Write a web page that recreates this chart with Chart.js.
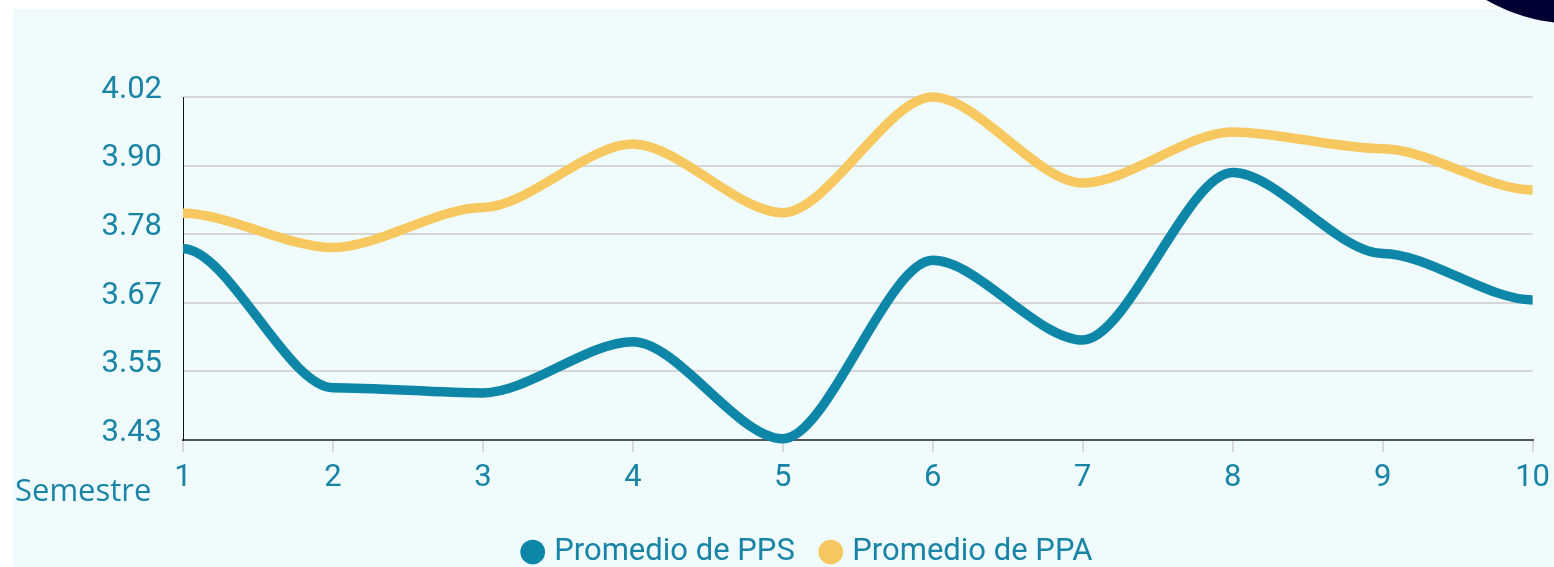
<!DOCTYPE html>
<html lang="es">
<head>
<meta charset="utf-8">
<title>Promedio por semestre</title>
<script src="https://cdn.jsdelivr.net/npm/chart.js@4.4.1/dist/chart.umd.min.js"></script>
<style>
  html, body {
    margin: 0;
    padding: 0;
    width: 1554px;
    height: 567px;
    overflow: hidden;
    background: #ffffff;
  }
  .panel {
    position: absolute;
    left: 13px;
    top: 9px;
    width: 1545px;
    height: 570px;
    background: #effbfd;
  }
  #chart {
    position: absolute;
    left: 0;
    top: 0;
  }
  .axis-title {
    position: absolute;
    left: 2px;
    top: 465px;
    font-family: "Open Sans", sans-serif;
    font-size: 31px;
    line-height: 1;
    color: #1a84a6;
  }
  .blob {
    position: absolute;
    left: 1396px;
    top: -336px;
    width: 360px;
    height: 360px;
    border-radius: 50%;
    background: #000033;
  }
</style>
</head>
<body>
<div class="panel">
  <canvas id="chart" width="1545" height="570"></canvas>
  <span class="axis-title">Semestre</span>
</div>
<div class="blob"></div>

<script>
  const semestres = ["1", "2", "3", "4", "5", "6", "7", "8", "9", "10"];
  const promedioPPS = [3.759, 3.520, 3.511, 3.599, 3.432, 3.739, 3.602, 3.890, 3.751, 3.671];
  const promedioPPA = [3.820, 3.761, 3.830, 3.939, 3.821, 4.020, 3.872, 3.960, 3.931, 3.860];
  const yTicks = [3.43, 3.548, 3.666, 3.784, 3.902, 4.02];

  const textColor = "#1a84a6";
  const ppsColor = "#0d86a8";
  const ppaColor = "#f7c85f";

  // smooth curve with a flat tangent at every point, handles 0.3 of the gap
  const flatSmooth = {
    id: "flatSmooth",
    beforeDatasetDraw(chart, args) {
      const pts = args.meta.data;
      const n = pts.length;
      const k = 0.3;
      for (let i = 0; i < n; i++) {
        const pt = pts[i];
        const dxPrev = i > 0 ? (pt.x - pts[i - 1].x) * k : 0;
        const dxNext = i < n - 1 ? (pts[i + 1].x - pt.x) * k : 0;
        pt.cp1x = pt.x - dxPrev;
        pt.cp1y = pt.y;
        pt.cp2x = pt.x + dxNext;
        pt.cp2y = pt.y;
      }
      args.meta.dataset._pointsUpdated = true;
    },
  };

  const ctx = document.getElementById("chart").getContext("2d");

  new Chart(ctx, {
    type: "line",
    data: {
      labels: semestres,
      datasets: [
        {
          label: "Promedio de PPS",
          data: promedioPPS,
          borderColor: ppsColor,
          backgroundColor: ppsColor,
          borderWidth: 9.5,
          cubicInterpolationMode: "monotone",
          pointRadius: 0,
          clip: false,
        },
        {
          label: "Promedio de PPA",
          data: promedioPPA,
          borderColor: ppaColor,
          backgroundColor: ppaColor,
          borderWidth: 9.5,
          cubicInterpolationMode: "monotone",
          pointRadius: 0,
          clip: false,
        },
      ],
    },
    options: {
      responsive: false,
      animation: false,
      layout: {
        padding: { left: 67.3, right: 19, top: 88, bottom: 1.5 },
      },
      plugins: {
        tooltip: { enabled: false },
        legend: {
          position: "bottom",
          labels: {
            usePointStyle: true,
            pointStyle: "circle",
            boxWidth: 12,
            boxHeight: 17.5,
            padding: 30,
            color: textColor,
            font: { family: "Roboto", size: 31 },
            generateLabels: (chart) =>
              Chart.defaults.plugins.legend.labels
                .generateLabels(chart)
                .map((item) => ({ ...item, lineWidth: 0 })),
          },
        },
      },
      scales: {
        x: {
          afterFit: (scale) => {
            scale.height = 66.5;
          },
          grid: {
            drawOnChartArea: false,
            drawTicks: true,
            tickLength: 12,
            color: "#d9d9d9",
            lineWidth: 2,
          },
          border: { color: "#555555", width: 2 },
          ticks: {
            color: textColor,
            padding: 8,
            maxRotation: 0,
            font: { family: "Roboto", size: 31 },
          },
        },
        y: {
          min: 3.43,
          max: 4.02,
          afterFit: (scale) => {
            scale.width = 102.7;
          },
          afterBuildTicks: (scale) => {
            scale.ticks = yTicks.map((v) => ({ value: v }));
          },
          grid: {
            drawTicks: false,
            color: "#d6d6d6",
            lineWidth: 2,
          },
          border: { color: "#111111", width: 1 },
          ticks: {
            color: textColor,
            padding: 21,
            labelOffset: -7,
            font: { family: "Roboto", size: 31 },
            callback: function (value) {
              return Number(value).toFixed(2);
            },
          },
        },
      },
    },
    plugins: [flatSmooth],
  });
</script>
</body>
</html>
